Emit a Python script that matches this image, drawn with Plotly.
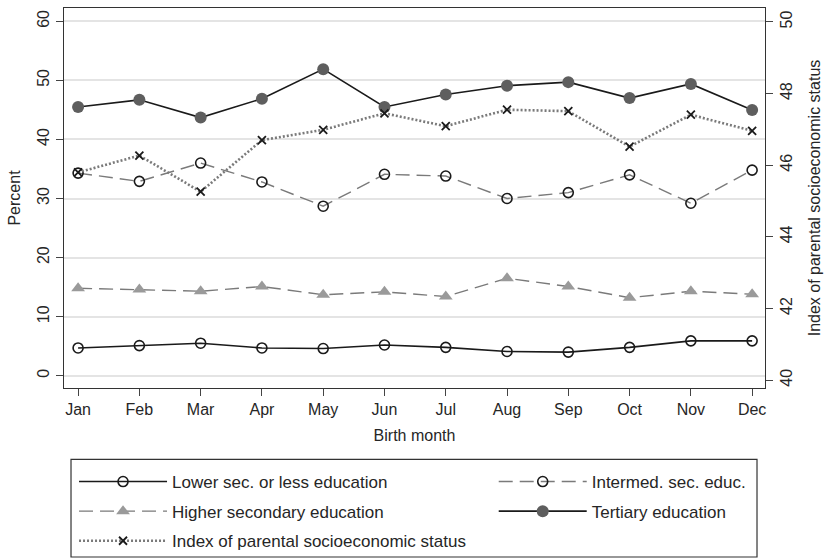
import plotly.graph_objects as go

months = ["Jan", "Feb", "Mar", "Apr", "May", "Jun", "Jul", "Aug", "Sep", "Oct", "Nov", "Dec"]

# Share of births by parental education (percent, left axis)
lower_sec = [4.7, 5.1, 5.5, 4.7, 4.6, 5.2, 4.8, 4.1, 4.0, 4.8, 5.9, 5.9]
intermed_sec = [34.3, 32.9, 36.0, 32.8, 28.7, 34.1, 33.8, 30.0, 31.0, 34.0, 29.2, 34.8]
higher_sec = [14.8, 14.6, 14.3, 15.1, 13.7, 14.2, 13.4, 16.5, 15.1, 13.2, 14.3, 13.8]
tertiary = [45.5, 46.7, 43.7, 46.9, 51.9, 45.5, 47.6, 49.1, 49.7, 47.0, 49.4, 45.0]

# Index of parental socioeconomic status (right axis)
ses_index = [45.80, 46.27, 45.26, 46.70, 46.99, 47.45, 47.09, 47.55, 47.51, 46.52, 47.41, 46.96]

left_ticks = [0, 10, 20, 30, 40, 50, 60]
right_ticks = [40, 42, 44, 46, 48, 50]

FONT = "Liberation Sans, Arial, sans-serif"
INK = "#262626"
GRAY_LINE = "#7a7a7a"
TICK_SIZE = 16
LEGEND_SIZE = 17

fig = go.Figure()

# left legend column: lower sec., higher sec., SES index
# right legend column: intermed. sec., tertiary
fig.add_trace(go.Scatter(
    x=months, y=lower_sec, name="Lower sec. or less education",
    mode="lines+markers", legend="legend", legendgroup="a",
    line=dict(color="#1a1a1a", width=1.6),
    marker=dict(symbol="circle-open", size=10, color="#1a1a1a", line=dict(width=1.6)),
))
fig.add_trace(go.Scatter(
    x=months, y=intermed_sec, name="Intermed. sec. educ.",
    mode="lines+markers", legend="legend2", legendgroup="b",
    line=dict(color=GRAY_LINE, width=1.4, dash="14px,7px"),
    marker=dict(symbol="circle-open", size=10, color="#1a1a1a", line=dict(width=1.6)),
))
fig.add_trace(go.Scatter(
    x=months, y=higher_sec, name="Higher secondary education",
    mode="lines+markers", legend="legend", legendgroup="c",
    line=dict(color=GRAY_LINE, width=1.4, dash="14px,7px"),
    marker=dict(symbol="triangle-up", size=12, color="#9a9a9a", line=dict(width=0)),
))
fig.add_trace(go.Scatter(
    x=months, y=tertiary, name="Tertiary education",
    mode="lines+markers", legend="legend2", legendgroup="d",
    line=dict(color="#1a1a1a", width=1.6),
    marker=dict(symbol="circle", size=12, color="#5e5e5e", line=dict(width=0)),
))
fig.add_trace(go.Scatter(
    x=months, y=ses_index, name="Index of parental socioeconomic status",
    yaxis="y2", mode="lines+markers", legend="legend", legendgroup="e",
    line=dict(color=GRAY_LINE, width=2.6, dash="2px,2px"),
    marker=dict(symbol="x-thin-open", size=8, color="#1a1a1a", line=dict(width=1.8, color="#1a1a1a")),
))

legend_common = dict(
    orientation="v",
    xanchor="left", yanchor="top",
    y=-0.2,
    borderwidth=0,
    bgcolor="rgba(0,0,0,0)",
    font=dict(family=FONT, size=LEGEND_SIZE, color=INK),
    itemwidth=88,
    tracegroupgap=4.5,
    traceorder="grouped",
)

fig.update_layout(
    width=824, height=558,
    margin=dict(l=64, r=59, t=8, b=170, autoexpand=False),
    paper_bgcolor="white", plot_bgcolor="white",
    font=dict(family=FONT, size=TICK_SIZE, color=INK),
    showlegend=True,
    legend=dict(x=0.0143, **legend_common),
    legend2=dict(x=0.613, **legend_common),
    shapes=[dict(
        type="rect", xref="paper", yref="paper",
        x0=0.0100, x1=0.9886, y0=-0.4447, y1=-0.188,
        line=dict(color="#333333", width=1.2),
        fillcolor="rgba(0,0,0,0)", layer="below",
    )],
    xaxis=dict(
        type="category",
        range=[-0.23, 11.21],
        showgrid=False, zeroline=False,
        showline=True, linecolor="#333333", linewidth=1.3, mirror=True,
        ticks="outside", ticklen=7, tickcolor="#444444", tickwidth=1.2,
        tickfont=dict(size=TICK_SIZE, color=INK),
        title=dict(text="Birth month", font=dict(size=TICK_SIZE, color=INK), standoff=12),
    ),
    yaxis=dict(
        range=[-2.08, 62.25],
        tickvals=left_ticks,
        tickangle=-90,
        showgrid=True, gridcolor="#e4e4e4", gridwidth=1.6,
        zeroline=False,
        showline=True, linecolor="#333333", linewidth=1.3,
        ticks="outside", ticklen=7, tickcolor="#444444", tickwidth=1.2,
        tickfont=dict(size=TICK_SIZE, color=INK),
        title=dict(text="Percent", font=dict(size=TICK_SIZE, color=INK), standoff=10),
    ),
    yaxis2=dict(
        overlaying="y", side="right",
        range=[39.78, 50.39],
        tickvals=right_ticks,
        tickangle=-90,
        showgrid=False, zeroline=False,
        showline=True, linecolor="#333333", linewidth=1.3,
        ticks="outside", ticklen=7, tickcolor="#444444", tickwidth=1.2,
        tickfont=dict(size=TICK_SIZE, color=INK),
        title=dict(text="Index of parental socioeconomic status", font=dict(size=TICK_SIZE, color=INK), standoff=14),
    ),
)

fig.write_html("out.html")
